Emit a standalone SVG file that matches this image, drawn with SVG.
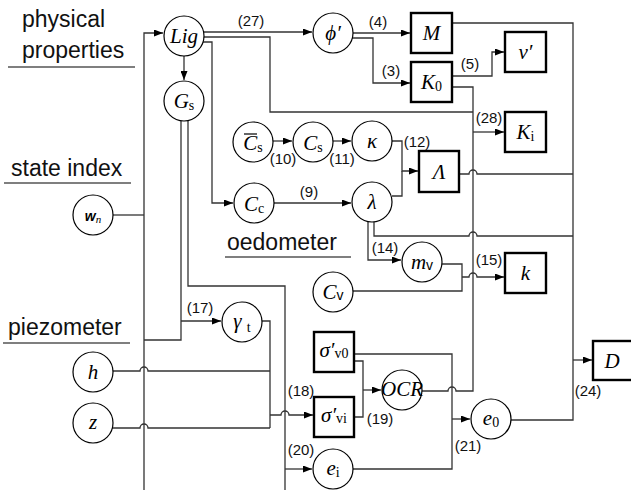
<svg xmlns="http://www.w3.org/2000/svg" width="631" height="490" viewBox="0 0 631 490">
<defs>
<marker id="arr" markerWidth="9" markerHeight="7" refX="9" refY="3.5" orient="auto" markerUnits="userSpaceOnUse"><path d="M0,0 L9,3.5 L0,7 z" fill="#000"/></marker>
</defs>
<style>
.c{fill:#fff;stroke:#000;stroke-width:1.2}
.b{fill:#fff;stroke:#000;stroke-width:2.4}
.w{fill:none;stroke:#333;stroke-width:1.3}
.a{marker-end:url(#arr)}
.t{font-family:"Liberation Serif",serif;font-style:italic;font-size:21px;text-anchor:middle;fill:#000}
.u{font-style:normal;font-size:14px}
.v{font-family:"Liberation Sans",sans-serif;font-style:normal;font-size:14px}
.n{font-family:"Liberation Sans",Arial,sans-serif;font-size:15px;text-anchor:middle;fill:#111}
.h{font-family:"Liberation Sans",Arial,sans-serif;font-size:23px;fill:#111}
.ul{stroke:#555;stroke-width:1.5}
</style>
<rect width="631" height="490" fill="#fff"/>
<g id="section-labels">
<text class="h" x="22" y="27">physical</text>
<text class="h" x="22" y="58">properties</text>
<line class="ul" x1="8" y1="67" x2="135" y2="67"/>
<text class="h" x="11" y="176">state index</text>
<line class="ul" x1="4" y1="183" x2="131" y2="183"/>
<text class="h" x="227" y="250">oedometer</text>
<line class="ul" x1="225" y1="257" x2="351" y2="257"/>
<text class="h" x="8" y="335">piezometer</text>
<line class="ul" x1="3" y1="343" x2="130" y2="343"/>
</g>
<g id="connectors">
<path class="w a" d="M144,490 V33 H163"/>
<path class="w" d="M113,215 H144"/>
<path class="w a" d="M204,32 H312"/>
<path class="w" d="M203,37 H270 V112 H473"/>
<path class="w a" d="M202,42 H212 V203 H233"/>
<path class="w a" d="M184,56 V80"/>
<path class="w" d="M181,121 V340 H144"/>
<path class="w a" d="M181,321 H221"/>
<path class="w" d="M188,121 V286 H285 V490"/>
<path class="w a" d="M285,469 H312"/>
<path class="w" d="M262,321 H270 V428"/>
<path class="w" d="M113,371 H140 a4,4 0 0 1 8,0 H270"/>
<path class="w" d="M112,428 H140 a4,4 0 0 1 8,0 H270"/>
<path class="w a" d="M270,415 H281 a4,4 0 0 1 8,0 H313"/>
<path class="w a" d="M353,33 H410"/>
<path class="w a" d="M352,38 H373 V83 H410"/>
<path class="w a" d="M452,76 H492 V52 H504"/>
<path class="w" d="M452,23 H573 V420 H511"/>
<path class="w a" d="M573,360 H592"/>
<path class="w" d="M422,391 H448 a4,4 0 0 1 8,0 H473 V87 H452"/>
<path class="w a" d="M473,132 H504"/>
<path class="w a" d="M273,141 H292"/>
<path class="w a" d="M333,141 H351"/>
<path class="w a" d="M392,141 H402 V171 H418"/>
<path class="w" d="M392,196 H402 V171"/>
<path class="w a" d="M274,203 H351"/>
<path class="w" d="M459,174 H469 a4,4 0 0 1 8,0 H573"/>
<path class="w a" d="M368,222 V260 H401"/>
<path class="w" d="M374,222 V236 H469 a4,4 0 0 1 8,0 H573"/>
<path class="w" d="M353,291 H462 V264 H442"/>
<path class="w a" d="M462,277 H469 a4,4 0 0 1 8,0 H504"/>
<path class="w" d="M354,354 H452 V469 H353"/>
<path class="w a" d="M452,419 H470"/>
<path class="w" d="M354,361 H363 V417 H354"/>
<path class="w a" d="M363,390 H381"/>
<text class="n" x="251" y="26">(27)</text>
<text class="n" x="378" y="27">(4)</text>
<text class="n" x="391" y="76">(3)</text>
<text class="n" x="470" y="69">(5)</text>
<text class="n" x="489" y="123">(28)</text>
<text class="n" x="283" y="164">(10)</text>
<text class="n" x="342" y="164">(11)</text>
<text class="n" x="417" y="147">(12)</text>
<text class="n" x="309" y="197">(9)</text>
<text class="n" x="385" y="253">(14)</text>
<text class="n" x="489" y="265">(15)</text>
<text class="n" x="200" y="313">(17)</text>
<text class="n" x="301" y="396">(18)</text>
<text class="n" x="380" y="424">(19)</text>
<text class="n" x="301" y="455">(20)</text>
<text class="n" x="468" y="451">(21)</text>
<text class="n" x="588" y="396">(24)</text>
</g>
<g id="node-Lig"><circle class="c" cx="184" cy="36" r="20"/><text class="t" x="184" y="43">Lig</text></g>
<g id="node-Gs"><circle class="c" cx="184" cy="101" r="20"/><text class="t" x="184" y="108">G<tspan class="u" dy="2">s</tspan></text></g>
<g id="node-phi"><circle class="c" cx="333" cy="33" r="20"/><text class="t" x="333" y="40">ϕ′</text></g>
<g id="node-M"><rect class="b" x="411" y="13" width="41" height="40"/><text class="t" x="431.5" y="40">M</text></g>
<g id="node-nu"><rect class="b" x="505" y="32" width="41" height="40"/><text class="t" x="525.5" y="59">ν′</text></g>
<g id="node-K0"><rect class="b" x="411" y="62" width="41" height="40"/><text class="t" x="431.5" y="89">K<tspan class="u" dy="2">0</tspan></text></g>
<g id="node-Ki"><rect class="b" x="505" y="112" width="41" height="40"/><text class="t" x="525.5" y="139">K<tspan class="u" dy="2">i</tspan></text></g>
<g id="node-Csbar"><circle class="c" cx="253" cy="142" r="20"/><text class="t" x="253" y="150">C<tspan class="u" dy="2">s</tspan></text><line x1="244" y1="134" x2="257" y2="134" stroke="#000" stroke-width="1.2"/></g>
<g id="node-Cs"><circle class="c" cx="313" cy="142" r="20"/><text class="t" x="313" y="150">C<tspan class="u" dy="2">s</tspan></text></g>
<g id="node-kappa"><circle class="c" cx="372" cy="141" r="20"/><text class="t" x="372" y="148">κ</text></g>
<g id="node-Lambda"><rect class="b" x="419" y="151" width="40" height="41"/><text class="t" x="439" y="179">Λ</text></g>
<g id="node-Cc"><circle class="c" cx="254" cy="203" r="20"/><text class="t" x="254" y="211">C<tspan class="u" dy="2">c</tspan></text></g>
<g id="node-lambda"><circle class="c" cx="372" cy="202" r="20"/><text class="t" x="372" y="209">λ</text></g>
<g id="node-wn"><circle class="c" cx="93" cy="215" r="20"/><text class="t" x="93" y="221"><tspan font-family="Liberation Sans,sans-serif" font-weight="bold" font-size="14">w</tspan><tspan font-size="11" dy="2">n</tspan></text></g>
<g id="node-mv"><circle class="c" cx="422" cy="262" r="20"/><text class="t" x="422" y="269">m<tspan class="v" dy="1">v</tspan></text></g>
<g id="node-k"><rect class="b" x="505" y="253" width="41" height="40"/><text class="t" x="525.5" y="280">k</text></g>
<g id="node-Cv"><circle class="c" cx="333" cy="292" r="20"/><text class="t" x="333" y="299">C<tspan class="v" dy="1">v</tspan></text></g>
<g id="node-gamma"><circle class="c" cx="242" cy="322" r="20"/><text class="t" x="242" y="328" font-size="19">γ <tspan class="u" font-size="13" dy="4">t</tspan></text></g>
<g id="node-h"><circle class="c" cx="93" cy="372" r="20"/><text class="t" x="93" y="379">h</text></g>
<g id="node-z"><circle class="c" cx="93" cy="423" r="20"/><text class="t" x="93" y="429">z</text></g>
<g id="node-sv0"><rect class="b" x="314" y="332" width="40" height="40"/><text class="t" x="334" y="357" font-style="normal" font-size="23">σ′<tspan class="u" font-size="13" dy="1">v0</tspan></text></g>
<g id="node-svi"><rect class="b" x="314" y="397" width="40" height="40"/><text class="t" x="334" y="422" font-style="normal" font-size="23">σ′<tspan class="u" font-size="13" dy="1">vi</tspan></text></g>
<g id="node-OCR"><circle class="c" cx="402" cy="390" r="20"/><text class="t" x="402" y="396" font-size="15">OCR</text></g>
<g id="node-e0"><circle class="c" cx="491" cy="419" r="20"/><text class="t" x="491" y="425">e<tspan class="u" dy="2">0</tspan></text></g>
<g id="node-ei"><circle class="c" cx="333" cy="469" r="20"/><text class="t" x="333" y="475">e<tspan class="u" dy="2">i</tspan></text></g>
<g id="node-D"><rect class="b" x="593" y="341" width="40" height="39"/><text class="t" x="612" y="368" font-size="23">D</text></g>
</svg>
